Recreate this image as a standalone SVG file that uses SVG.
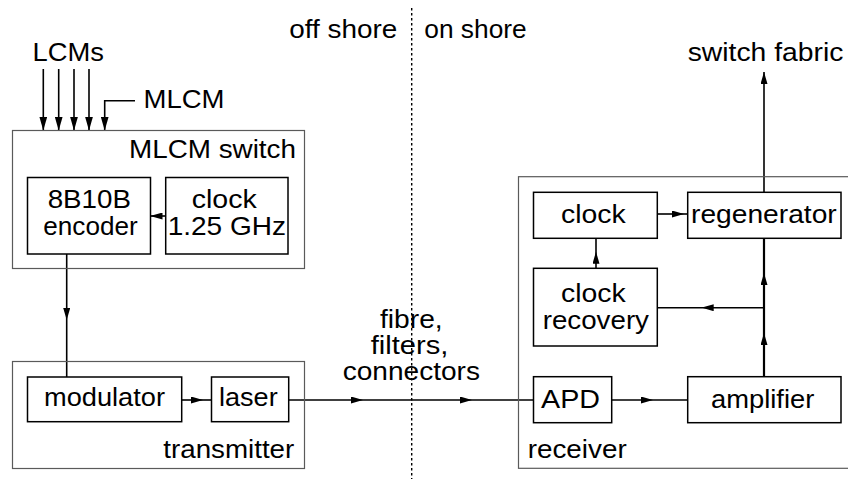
<svg xmlns="http://www.w3.org/2000/svg" width="848" height="479" viewBox="0 0 848 479">
  <style>
    text { font-family: "Liberation Sans", Arial, sans-serif; font-size: 25.5px; fill: #000; }
    .outer { fill: none; stroke: #5a5a5a; stroke-width: 1.2; }
    .inner { fill: #fff; stroke: #000; stroke-width: 1.5; }
    .wire { fill: none; stroke: #000; stroke-width: 1.6; }
    .thick { stroke-width: 2.2; }
    .mid { marker-mid: url(#ah); }
    .end { marker-end: url(#ah); }
    .endbig { marker-end: url(#ahbig); }
    .shore { fill: none; stroke: #000; stroke-width: 1.4; stroke-dasharray: 2.5 2.5; }
  </style>
  <defs>
    <marker id="ah" viewBox="0 0 12 7" refX="12" refY="3.5" markerWidth="12" markerHeight="7" markerUnits="userSpaceOnUse" orient="auto">
      <path d="M0,0 L12,3.5 L0,7 z" fill="#000"/>
    </marker>
    <marker id="ahbig" viewBox="0 0 14 8" refX="14" refY="4" markerWidth="14" markerHeight="8" markerUnits="userSpaceOnUse" orient="auto">
      <path d="M0,0 L14,4 L0,8 z" fill="#000"/>
    </marker>
  </defs>

  <!-- shore boundary -->
  <path class="shore" d="M411.7,8 V479"/>
  <text x="289.3" y="38" textLength="108" lengthAdjust="spacingAndGlyphs">off shore</text>
  <text x="424.3" y="38" textLength="102.4" lengthAdjust="spacingAndGlyphs">on shore</text>

  <!-- connectors -->
  <g id="connectors">
    <path class="wire endbig" d="M43.3,69 V130.5"/>
    <path class="wire endbig" d="M58.7,69 V130.5"/>
    <path class="wire endbig" d="M74,69 V130.5"/>
    <path class="wire endbig" d="M89,69 V130.5"/>
    <path class="wire endbig" d="M135,100.7 H104.7 V130.5"/>
    <path class="wire end" d="M165.7,216 H150.5"/>
    <path class="wire mid" d="M66.7,254 V320 V377"/>
    <path class="wire mid" d="M181.7,400 H203 H211.5"/>
    <path class="wire mid" d="M288.7,400 H363 H472 H533.5"/>
    <path class="wire mid" d="M611.7,400 H653 H687.7"/>
    <path class="wire thick mid" d="M764,376.7 V333 V273 V238.3"/>
    <path class="wire mid" d="M764,307.7 H701.7 H657.3"/>
    <path class="wire mid" d="M596,268.3 V251.7 V238.3"/>
    <path class="wire mid" d="M657.3,214 H684 H687.7"/>
    <path class="wire end" d="M764,192.3 V72"/>
  </g>

  <!-- input labels -->
  <text x="32.5" y="61" textLength="71.5" lengthAdjust="spacingAndGlyphs">LCMs</text>
  <text x="143.5" y="107.5" textLength="81" lengthAdjust="spacingAndGlyphs">MLCM</text>

  <!-- MLCM switch -->
  <g id="mlcm-switch">
    <rect class="outer" x="12.5" y="130.5" width="292" height="138"/>
    <text x="129" y="157.5" textLength="167" lengthAdjust="spacingAndGlyphs">MLCM switch</text>
  </g>
  <g id="encoder">
    <rect class="inner" x="27.5" y="177.5" width="123" height="76.5"/>
    <text x="47.7" y="208" textLength="83.3" lengthAdjust="spacingAndGlyphs">8B10B</text>
    <text x="43.3" y="235" textLength="94.4" lengthAdjust="spacingAndGlyphs">encoder</text>
  </g>
  <g id="clock-tx">
    <rect class="inner" x="165.7" y="177.5" width="122.3" height="76.5"/>
    <text x="191.7" y="208" textLength="65" lengthAdjust="spacingAndGlyphs">clock</text>
    <text x="167.7" y="235" textLength="118.3" lengthAdjust="spacingAndGlyphs">1.25 GHz</text>
  </g>

  <!-- transmitter -->
  <g id="transmitter">
    <rect class="outer" x="12.5" y="361.5" width="292" height="107"/>
    <text x="163.3" y="458" textLength="131" lengthAdjust="spacingAndGlyphs">transmitter</text>
  </g>
  <g id="modulator">
    <rect class="inner" x="27.5" y="377" width="154.2" height="44.7"/>
    <text x="44" y="406" textLength="121" lengthAdjust="spacingAndGlyphs">modulator</text>
  </g>
  <g id="laser">
    <rect class="inner" x="211.5" y="377" width="77.2" height="44.7"/>
    <text x="219" y="406" textLength="58.7" lengthAdjust="spacingAndGlyphs">laser</text>
  </g>

  <!-- fibre link -->
  <g id="fibre">
    <text x="380" y="328" textLength="62.7" lengthAdjust="spacingAndGlyphs">fibre,</text>
    <text x="370.7" y="354" textLength="77.7" lengthAdjust="spacingAndGlyphs">filters,</text>
    <text x="342.7" y="380" textLength="137.3" lengthAdjust="spacingAndGlyphs">connectors</text>
  </g>

  <!-- receiver -->
  <g id="receiver">
    <rect class="outer" x="518.5" y="176.7" width="340" height="291.6"/>
    <text x="527.7" y="458.3" textLength="99" lengthAdjust="spacingAndGlyphs">receiver</text>
  </g>
  <g id="clock-rx">
    <rect class="inner" x="533.5" y="192.3" width="123.8" height="46"/>
    <text x="561" y="222.5" textLength="64.7" lengthAdjust="spacingAndGlyphs">clock</text>
  </g>
  <g id="regenerator">
    <rect class="inner" x="687.7" y="192.3" width="153.3" height="46"/>
    <text x="691" y="222.5" textLength="145.7" lengthAdjust="spacingAndGlyphs">regenerator</text>
  </g>
  <g id="clock-recovery">
    <rect class="inner" x="533.5" y="268.3" width="123.8" height="77.7"/>
    <text x="561" y="301.5" textLength="64.7" lengthAdjust="spacingAndGlyphs">clock</text>
    <text x="542.7" y="329" textLength="106.3" lengthAdjust="spacingAndGlyphs">recovery</text>
  </g>
  <g id="apd">
    <rect class="inner" x="533.5" y="376.7" width="78.2" height="46"/>
    <text x="541" y="408" textLength="59" lengthAdjust="spacingAndGlyphs">APD</text>
  </g>
  <g id="amplifier">
    <rect class="inner" x="687.7" y="376.7" width="153.3" height="46"/>
    <text x="711" y="408" textLength="103.3" lengthAdjust="spacingAndGlyphs">amplifier</text>
  </g>

  <text x="687.7" y="61" textLength="155.7" lengthAdjust="spacingAndGlyphs">switch fabric</text>
</svg>
